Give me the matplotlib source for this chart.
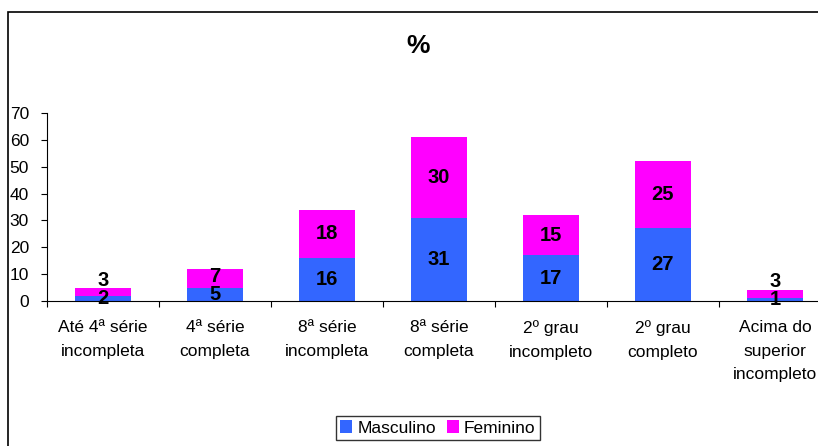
import matplotlib.pyplot as plt
from matplotlib.patches import Rectangle
import numpy as np

plt.rcParams['font.family'] = ['Liberation Sans', 'DejaVu Sans']

categorias = ['Até 4ª série\nincompleta', '4ª série\ncompleta', '8ª série\nincompleta',
              '8ª série\ncompleta', '2º grau\nincompleto', '2º grau\ncompleto',
              'Acima do\nsuperior\nincompleto']
masculino = [2, 5, 16, 31, 17, 27, 1]
feminino = [3, 7, 18, 30, 15, 25, 3]

fig = plt.figure(figsize=(8.18, 4.46), dpi=100)
# moldura do gráfico (sai pela direita e por baixo)
fig.patches.append(Rectangle((8 / 818, -0.1), 1.2, 1.1 - 12 / 446, transform=fig.transFigure,
                             fill=False, edgecolor='black', linewidth=1.2))

ax = fig.add_axes([47 / 818, 145 / 446, 784 / 818, 188 / 446])
x = np.arange(len(categorias))
ax.bar(x, masculino, width=0.5, color='#3366FF', label='Masculino')
ax.bar(x, feminino, width=0.5, bottom=masculino, color='#FF00FF', label='Feminino')

# rótulos no meio de cada segmento; nas barras baixas o de cima sobe um pouco
for i in x:
    y_m = masculino[i] / 2
    y_f = max(masculino[i] + feminino[i] / 2, y_m + 6.6)
    ax.text(i, y_m, str(masculino[i]), ha='center', va='center',
            fontsize=14.5, fontweight='bold')
    ax.text(i, y_f, str(feminino[i]), ha='center', va='center',
            fontsize=14.5, fontweight='bold')

ax.set_xlim(-0.5, len(categorias) - 0.5)
ax.set_ylim(0, 70)
ax.set_yticks(range(0, 71, 10))
ax.set_xticks(np.arange(-0.5, len(categorias), 1))
ax.set_xticklabels([])
ax.set_xticks(x, minor=True)
ax.set_xticklabels(categorias, minor=True, fontsize=12.5, linespacing=1.7)
ax.tick_params(axis='x', which='minor', length=0, pad=14)
ax.tick_params(axis='x', which='major', length=4, direction='out')
ax.tick_params(axis='y', labelsize=12.5, length=4, pad=9)
for s in ['top', 'right']:
    ax.spines[s].set_visible(False)

fig.text(418 / 818, 1 - 46 / 446, '%', ha='center', va='center', fontsize=19, fontweight='bold')

fig.legend(loc='center', bbox_to_anchor=(438 / 818, 1 - 428 / 446), ncol=2, fontsize=12.5,
           frameon=True, fancybox=False, edgecolor='black', handlelength=0.7, handleheight=0.7,
           handletextpad=0.3, columnspacing=0.6, borderpad=0.25)

fig.savefig('out.png', dpi=100)
